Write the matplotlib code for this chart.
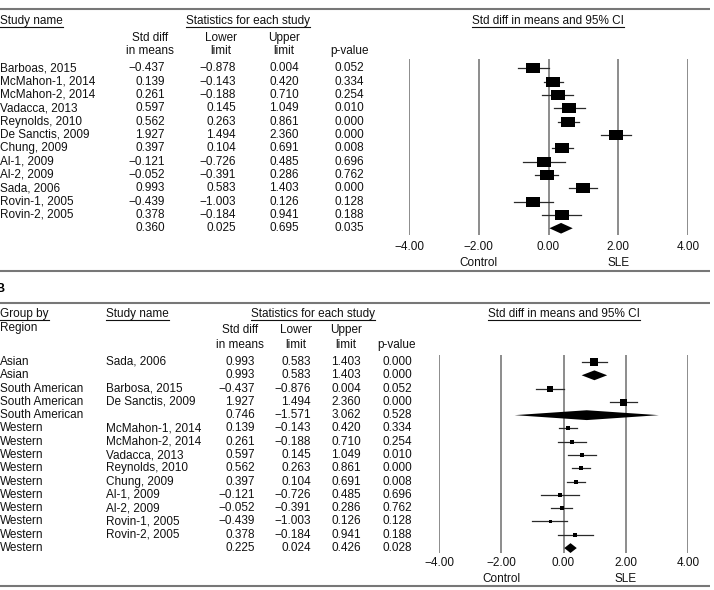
import matplotlib
matplotlib.use("Agg")
import matplotlib.pyplot as plt
import matplotlib.transforms as mtransforms
from matplotlib.path import Path

plt.rcParams['font.family'] = ['Liberation Sans', 'DejaVu Sans']

W, H = 714, 590
FS = 8.5

# ---- panel A data ----
a_names = ["Barboas, 2015", "McMahon-1, 2014", "McMahon-2, 2014", "Vadacca, 2013",
           "Reynolds, 2010", "De Sanctis, 2009", "Chung, 2009", "Al-1, 2009",
           "Al-2, 2009", "Sada, 2006", "Rovin-1, 2005", "Rovin-2, 2005", ""]
a_est = [-0.437, 0.139, 0.261, 0.597, 0.562, 1.927, 0.397, -0.121, -0.052, 0.993, -0.439, 0.378, 0.360]
a_low = [-0.878, -0.143, -0.188, 0.145, 0.263, 1.494, 0.104, -0.726, -0.391, 0.583, -1.003, -0.184, 0.025]
a_up = [0.004, 0.420, 0.710, 1.049, 0.861, 2.360, 0.691, 0.485, 0.286, 1.403, 0.126, 0.941, 0.695]
a_p = [0.052, 0.334, 0.254, 0.010, 0.000, 0.000, 0.008, 0.696, 0.762, 0.000, 0.128, 0.188, 0.035]
a_summary = [False] * 12 + [True]

# ---- panel B data ----
b_region = ["Asian", "Asian", "South American", "South American", "South American"] + ["Western"] * 10
b_names = ["Sada, 2006", "", "Barbosa, 2015", "De Sanctis, 2009", "",
           "McMahon-1, 2014", "McMahon-2, 2014", "Vadacca, 2013", "Reynolds, 2010",
           "Chung, 2009", "Al-1, 2009", "Al-2, 2009", "Rovin-1, 2005", "Rovin-2, 2005", ""]
b_est = [0.993, 0.993, -0.437, 1.927, 0.746, 0.139, 0.261, 0.597, 0.562, 0.397, -0.121, -0.052, -0.439, 0.378, 0.225]
b_low = [0.583, 0.583, -0.876, 1.494, -1.571, -0.143, -0.188, 0.145, 0.263, 0.104, -0.726, -0.391, -1.003, -0.184, 0.024]
b_up = [1.403, 1.403, 0.004, 2.360, 3.062, 0.420, 0.710, 1.049, 0.861, 0.691, 0.485, 0.286, 0.126, 0.941, 0.426]
b_p = [0.000, 0.000, 0.052, 0.000, 0.528, 0.334, 0.254, 0.010, 0.000, 0.008, 0.696, 0.762, 0.128, 0.188, 0.028]
b_summary = [False, True, False, False, True] + [False] * 9 + [True]
# relative box size (weight) of each study in panel B, pixels
b_box = [8, 0, 6.5, 7, 0, 4.5, 4, 4, 4.5, 4.5, 4, 4.5, 3, 3.5, 0]

ticks = [-4, -2, 0, 2, 4]


def fmt(v, nd=3):
    return f"{v:.{nd}f}".replace("-", "\u2212")


fig = plt.figure(figsize=(W / 100, H / 100), dpi=100)
bg = fig.add_axes([0, 0, 1, 1])
bg.set_xlim(0, W)
bg.set_ylim(H, 0)
bg.axis("off")

underlines = []


def txt(x, y, s, ha="left", ul=False, **kw):
    t = bg.text(x, y, s, ha=ha, va="center", fontsize=FS, color="#111111", **kw)
    if ul:
        underlines.append(t)
    return t


def rule(y):
    bg.plot([0, 710], [y, y], color="#777777", lw=1.5, solid_capstyle="butt")


rect = Path([(-1, -0.74), (1, -0.74), (1, 0.74), (-1, 0.74), (-1, -0.74)],
            [Path.MOVETO, Path.LINETO, Path.LINETO, Path.LINETO, Path.CLOSEPOLY])


def forest_axes(left, right, top, bottom, y0, dy, pad):
    ax = fig.add_axes([left / W, 1 - bottom / H, (right - left) / W, (bottom - top) / H])
    ax.set_xlim(-4, 4)
    ax.set_ylim((bottom - y0) / dy, (top - y0) / dy)
    for s in ax.spines.values():
        s.set_visible(False)
    ax.set_yticks([])
    ax.set_xticks(ticks)
    ax.set_xticklabels([fmt(t, 2) for t in ticks])
    ax.tick_params(axis="x", length=0, pad=pad, labelsize=FS, labelcolor="#111111")
    ax.patch.set_alpha(0)
    for t in ticks:
        ax.axvline(t, color="#6e6e6e", lw=1.1, zorder=0)
    return ax


def draw_forest(ax, est, low, up, summ, box, dh, marker):
    for i in range(len(est)):
        if summ[i]:
            ax.fill([low[i], est[i], up[i], est[i]], [i, i - dh, i, i + dh],
                    color="black", lw=0, zorder=3, clip_on=False)
        else:
            ax.plot([low[i], up[i]], [i, i], color="#2a2a2a", lw=0.9, zorder=2)
            ax.plot([est[i]], [i], marker=marker, ms=box[i] * 0.72, color="black",
                    mec="black", mew=0, ls="none", zorder=3)


# ================= panel A =================
bg.text(1, -3, "A", fontsize=9, fontweight="bold", ha="left", va="center")
rule(9)
txt(0, 21, "Study name", ul=True)
txt(248, 21, "Statistics for each study", ha="center", ul=True)
txt(548, 21, "Std diff in means and 95% CI", ha="center", ul=True)
txt(150, 38, "Std diff", ha="center")
txt(150, 51, "in means", ha="center")
txt(221, 38, "Lower", ha="center")
txt(221, 51, "limit", ha="center")
txt(284, 38, "Upper", ha="center")
txt(284, 51, "limit", ha="center")
txt(350, 51, "p-value", ha="center")

a_y0, a_dy = 68.3, 13.33
for i in range(len(a_est)):
    y = a_y0 + i * a_dy
    txt(0, y, a_names[i])
    txt(165, y, fmt(a_est[i]), ha="right")
    txt(236, y, fmt(a_low[i]), ha="right")
    txt(299, y, fmt(a_up[i]), ha="right")
    txt(364, y, fmt(a_p[i]), ha="right")

axA = forest_axes(409, 688, 59, 235, a_y0, a_dy, pad=4.5)
draw_forest(axA, a_est, a_low, a_up, a_summary, [14] * 13, 0.40, rect)
trA = mtransforms.blended_transform_factory(axA.transData, bg.transData)
axA.text(-2, 263, "Control", transform=trA, ha="center", va="center", fontsize=FS, color="#111111")
axA.text(2, 263, "SLE", transform=trA, ha="center", va="center", fontsize=FS, color="#111111")
rule(270.5)

# ================= panel B =================
bg.text(-5, 289, "B", fontsize=9, fontweight="bold", ha="left", va="center")
rule(303)
txt(0, 314, "Group by", ul=True)
txt(0, 328, "Region")
txt(106, 314, "Study name", ul=True)
txt(313, 314, "Statistics for each study", ha="center", ul=True)
txt(564, 314, "Std diff in means and 95% CI", ha="center", ul=True)
txt(240, 330, "Std diff", ha="center")
txt(240, 345, "in means", ha="center")
txt(296, 330, "Lower", ha="center")
txt(296, 345, "limit", ha="center")
txt(346, 330, "Upper", ha="center")
txt(346, 345, "limit", ha="center")
txt(397, 345, "p-value", ha="center")

b_y0, b_dy = 362, 13.29
for i in range(len(b_est)):
    y = b_y0 + i * b_dy
    txt(0, y, b_region[i])
    txt(106, y, b_names[i])
    txt(255, y, fmt(b_est[i]), ha="right")
    txt(311, y, fmt(b_low[i]), ha="right")
    txt(361, y, fmt(b_up[i]), ha="right")
    txt(412, y, fmt(b_p[i]), ha="right")

axB = forest_axes(439, 688, 355, 553, b_y0, b_dy, pad=3)
draw_forest(axB, b_est, b_low, b_up, b_summary, b_box, 0.37, "s")
trB = mtransforms.blended_transform_factory(axB.transData, bg.transData)
axB.text(-2, 579, "Control", transform=trB, ha="center", va="center", fontsize=FS, color="#111111")
axB.text(2, 579, "SLE", transform=trB, ha="center", va="center", fontsize=FS, color="#111111")
rule(586)

# underlines under the header texts
fig.canvas.draw()
inv = bg.transData.inverted()
for t in underlines:
    bb = t.get_window_extent()
    (x0, y0), (x1, _) = inv.transform([(bb.x0, bb.y0), (bb.x1, bb.y1)])
    bg.plot([x0, x1], [y0 - 0.5, y0 - 0.5], color="#111111", lw=0.8)

fig.savefig("out.png", dpi=100)
